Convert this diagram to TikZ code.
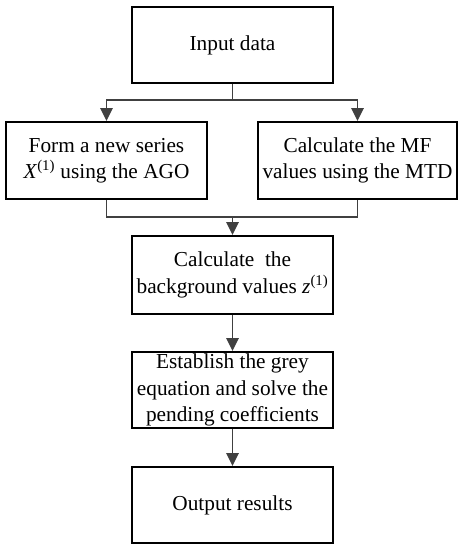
\documentclass[tikz,border=0pt]{standalone}
\usepackage{fontspec}
\setmainfont{Liberation Serif}
\usetikzlibrary{arrows.meta}
\begin{document}
\begin{tikzpicture}[x=1pt,y=-1pt,
  box/.style={draw=black,line width=2pt,rectangle,align=center,inner sep=0pt,
    font=\fontsize{21.3}{26.5}\selectfont},
  conn/.style={draw=black!75,line width=1.8pt},
  arr/.style={conn,-{Triangle[length=13pt,width=12.5pt]}}]
\useasboundingbox (0,0) rectangle (464,550);
\node[box,minimum width=201pt,minimum height=76pt] (in) at (232.5,45) {Input data};
\node[box,minimum width=201pt,minimum height=77pt] (left) at (106.5,160.5) {Form a new series\\\textit{X}\textsuperscript{(1)} using the AGO};
\node[box,minimum width=199pt,minimum height=77pt] (right) at (357.5,160.5) {Calculate the MF\\values using the MTD};
\node[box,minimum width=201pt,minimum height=78pt] (m1) at (232.5,275) {Calculate\ \ the\\background values \textit{z}\textsuperscript{(1)}};
\node[box,minimum width=201pt,minimum height=76pt] (m2) at (232.5,390) {Establish the grey\\equation and solve the\\pending coefficients};
\node[box,minimum width=201pt,minimum height=76pt] (out) at (232.5,505) {Output results};
\coordinate (j1) at (232.5,100);
\coordinate (j2) at (232.5,217);
\draw[conn] (in.south) -- (j1);
\draw[arr] (j1) -| (left.north);
\draw[arr] (j1) -| (right.north);
\draw[conn] (left.south) -- (left.south |- j2) -- (right.south |- j2) -- (right.south);
\draw[arr] (j2) -- (m1.north);
\draw[arr] (m1.south) -- (m2.north);
\draw[arr] (m2.south) -- (out.north);
\end{tikzpicture}
\end{document}
